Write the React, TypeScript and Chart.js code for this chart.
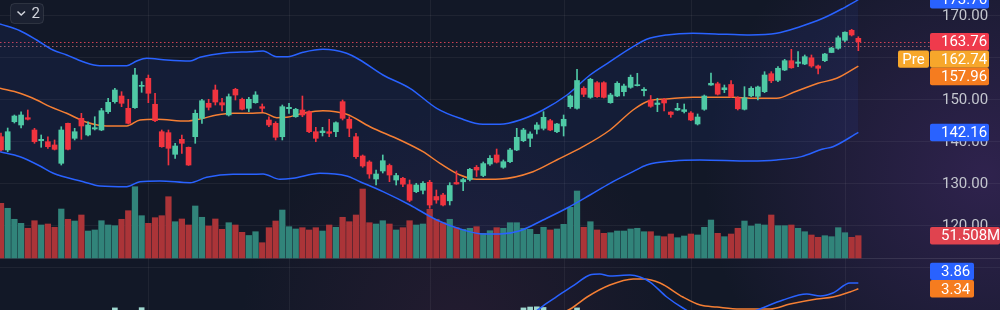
import React, { useEffect, useRef } from "react";
import { Chart, registerables } from "chart.js";

Chart.register(...registerables);

// ---------- DATA ----------
const opens = [
  141.14, 137.98, 144.71, 143.93, 145.67, 142.74, 140.19, 139.95, 139.17, 134.81,
  144.33, 140.76, 145.52, 141.55, 142.98, 142.74, 147.1, 149.48, 150.83, 147.9,
  148.05, 153.14, 155.05, 148.86, 142.33, 142.1, 136.95, 140.52, 138.62, 141.14,
  145.52, 149.1, 152.26, 149.24, 146.31, 152.43, 150.05, 147.9, 149.24, 148.29,
  145.12, 144.33, 141.14, 147.81, 145.9, 147.5, 147.1, 142.33, 142.1, 142.33,
  142.33, 149.48, 145.29, 141.14, 136.55, 135.12, 131.07, 132.98, 134.29, 130.83,
  131.24, 129.74, 128.05, 128.38, 130.29, 126.9, 127.26, 125.88, 130.24, 130.4,
  130.95, 133.86, 131.9, 134.64, 136.79, 133.86, 135.19, 137.98, 140.19, 140.76,
  142.9, 143.14, 144.95, 142.33, 143.69, 148.29, 147.9, 152.67, 150.52, 154.0,
  154.0, 149.24, 150.83, 151.86, 152.9, 153.29, 152.1, 149.88, 148.81, 149.95,
  147.02, 147.5, 147.14, 146.79, 144.17, 147.67, 153.45, 153.74, 152.33, 153.57,
  150.4, 147.67, 150.88, 150.76, 151.86, 156.14, 154.57, 157.02, 159.24, 158.62,
  158.45, 159.93, 157.98, 159.24, 161.19, 162.19, 164.1, 166.48, 164.57,
];
const highs = [
  142.02, 143.21, 146.31, 147.09, 147.5, 143.14, 141.55, 141.14, 140.36, 143.52,
  144.4, 143.14, 146.71, 144.71, 145.9, 147.9, 150.29, 152.67, 151.86, 150.05,
  157.43, 154.24, 155.83, 151.48, 142.74, 142.74, 139.57, 141.55, 138.69, 147.5,
  150.05, 150.05, 153.45, 150.29, 151.31, 152.67, 150.36, 150.52, 151.86, 148.93,
  145.9, 144.71, 148.69, 149.1, 147.9, 150.83, 147.33, 143.38, 143.38, 145.29,
  144.71, 149.88, 145.9, 141.95, 136.79, 135.43, 133.21, 136.79, 134.64, 132.43,
  131.48, 130.83, 130.05, 130.43, 130.76, 128.45, 127.67, 130.19, 132.98, 131.24,
  133.62, 134.29, 135.12, 136.67, 138.21, 135.6, 138.38, 143.14, 143.14, 142.33,
  144.48, 147.1, 145.29, 144.33, 146.31, 151.07, 157.19, 153.05, 155.05, 154.24,
  154.24, 151.48, 154.24, 153.69, 155.83, 156.24, 152.81, 150.95, 150.29, 150.29,
  147.1, 149.1, 148.93, 147.1, 146.55, 151.07, 156.31, 154.12, 153.45, 154.52,
  150.67, 153.05, 153.05, 153.21, 156.62, 156.62, 157.81, 159.57, 161.95, 161.38,
  160.6, 160.6, 158.21, 161.0, 162.43, 165.12, 166.14, 166.71, 164.95,
];
const lows = [
  137.74, 137.57, 144.4, 143.21, 145.12, 139.57, 138.62, 138.38, 137.98, 134.4,
  137.98, 140.36, 140.52, 141.31, 142.74, 142.57, 146.71, 149.1, 148.29, 144.17,
  147.9, 151.71, 149.24, 144.71, 138.62, 134.4, 136.0, 137.19, 134.29, 139.57,
  144.33, 147.5, 148.69, 147.26, 146.07, 149.88, 147.5, 147.1, 149.1, 147.1,
  143.52, 140.36, 140.36, 146.71, 145.76, 145.9, 142.1, 139.95, 141.31, 141.14,
  141.14, 145.12, 141.14, 136.0, 133.86, 131.24, 129.64, 132.5, 130.43, 129.64,
  129.24, 125.67, 127.81, 127.5, 124.1, 125.29, 124.64, 124.88, 129.83, 128.29,
  130.6, 131.67, 131.62, 134.29, 134.88, 133.62, 134.95, 137.81, 139.95, 138.76,
  141.79, 142.74, 142.57, 142.1, 141.31, 147.9, 147.67, 150.67, 150.29, 150.52,
  150.36, 149.1, 150.67, 150.83, 152.67, 153.21, 150.83, 148.14, 147.1, 147.31,
  145.76, 147.38, 146.79, 144.95, 143.93, 147.43, 153.33, 151.07, 151.62, 150.52,
  147.5, 147.5, 150.67, 149.88, 151.62, 154.0, 154.24, 156.86, 157.43, 157.81,
  158.29, 157.67, 156.07, 159.0, 161.14, 161.95, 163.76, 165.12, 161.62,
];
const closes = [
  137.98, 142.33, 146.07, 146.31, 145.29, 139.95, 140.52, 138.76, 138.14, 142.74,
  138.14, 142.33, 143.69, 143.93, 143.29, 147.33, 149.33, 152.26, 149.1, 144.33,
  155.83, 153.38, 151.48, 144.95, 138.76, 138.38, 138.93, 139.57, 134.4, 146.71,
  149.71, 148.14, 149.4, 148.69, 150.67, 151.07, 147.67, 150.05, 151.07, 147.9,
  143.93, 141.0, 148.29, 148.14, 147.67, 146.31, 142.33, 140.76, 142.5, 141.95,
  144.48, 145.52, 143.14, 136.38, 134.17, 132.26, 132.26, 135.43, 132.02, 131.9,
  129.83, 126.0, 129.64, 130.05, 124.88, 126.07, 124.88, 129.52, 129.88, 130.93,
  133.38, 133.21, 134.74, 136.0, 135.07, 135.19, 137.98, 141.0, 142.74, 141.79,
  143.93, 145.76, 142.74, 144.17, 145.29, 150.83, 154.52, 151.24, 154.81, 150.67,
  150.52, 151.07, 153.86, 153.21, 155.29, 153.52, 152.43, 148.38, 149.17, 149.17,
  146.43, 147.9, 147.57, 145.12, 145.83, 150.83, 153.86, 151.26, 152.79, 150.67,
  147.79, 150.4, 152.67, 152.98, 155.83, 154.45, 157.43, 159.24, 157.55, 158.93,
  160.19, 157.98, 157.43, 160.83, 162.26, 164.69, 166.02, 165.36, 163.76,
];
// volume in millions
const volumes = [
  126.3, 114.8, 89.4, 80.1, 68.6, 86.1, 76.2, 78.5, 70.9, 113.1,
  89.4, 85.4, 99.3, 62.3, 64.7, 86.1, 76.2, 74.6, 89.4, 109.2,
  164.6, 97.7, 80.1, 93.1, 97.7, 141.5, 83.8, 90.1, 76.2, 120.1,
  94.0, 73.9, 90.1, 66.3, 81.5, 76.2, 59.3, 52.0, 60.7, 35.3,
  70.0, 85.4, 110.8, 72.3, 67.0, 70.0, 64.7, 70.0, 62.3, 76.2,
  70.9, 94.0, 83.8, 99.3, 159.3, 81.5, 78.5, 86.1, 78.5, 64.7,
  70.0, 86.1, 76.2, 78.5, 112.4, 89.4, 81.5, 89.4, 70.0, 66.3,
  68.6, 72.3, 57.0, 63.0, 70.0, 68.6, 81.5, 81.5, 68.6, 66.3,
  54.7, 70.9, 64.7, 67.0, 77.8, 117.1, 154.7, 70.9, 83.8, 64.7,
  57.0, 58.4, 62.3, 62.3, 67.0, 68.6, 60.7, 60.7, 50.8, 49.2,
  55.4, 46.9, 50.8, 55.4, 53.1, 70.9, 87.7, 57.0, 49.2, 55.4,
  68.6, 85.4, 73.9, 78.5, 76.2, 99.3, 74.6, 74.6, 76.2, 68.6,
  60.7, 53.1, 47.8, 51.5, 49.2, 70.0, 58.4, 47.8, 51.508,
];
// Bollinger bands: [bar index, price]
const upperBand: [number, number][] = [
  [-0.15, 167.98], [2.84, 166.38], [5.33, 164.17], [7.76, 161.79], [9.81, 160.6], [12.24, 159.0],
  [14.78, 158.05], [18.77, 158.05], [20.26, 159.17], [21.75, 159.81], [24.74, 159.4], [28.22, 159.17],
  [29.71, 160.05], [33.7, 161.14], [37.18, 161.38], [39.12, 161.55], [41.16, 160.19], [42.85, 160.19],
  [45.09, 161.24], [48.07, 161.95], [51.61, 161.0], [53.6, 159.4], [57.03, 155.83], [61.06, 152.67],
  [65.05, 147.9], [68.53, 145.52], [71.96, 144.1], [74.5, 144.1], [77.49, 145.12], [80.92, 147.5],
  [84.5, 151.07], [87.94, 155.83], [90.92, 159.0], [94.36, 162.57], [96.4, 164.33], [99.39, 165.36],
  [103.31, 165.76], [108.35, 165.52], [111.82, 165.36], [115.81, 165.76], [119.29, 167.33],
  [122.72, 169.33], [125.71, 171.71], [128, 173.76],
];
const middleBand: [number, number][] = [
  [-0.15, 152.67], [2.84, 151.48], [5.33, 149.88], [7.32, 148.29], [9.81, 146.71], [12.79, 144.57],
  [15.78, 143.69], [18.77, 143.69], [20.75, 145.12], [23.25, 145.29], [27.72, 144.88], [29.71, 145.36],
  [32.2, 146.31], [34.68, 146.71], [37.18, 146.71], [39.12, 146.86], [41.16, 145.67], [42.65, 145.76],
  [45.09, 146.71], [48.07, 147.33], [51.61, 146.48], [55.09, 143.52], [59.57, 140.36], [63.0, 137.57],
  [65.54, 134.81], [68.53, 132.02], [71.02, 131.0], [74.5, 131.07], [79.43, 132.81], [82.97, 135.6],
  [86.89, 138.76], [90.92, 142.74], [94.36, 147.5], [96.4, 149.48], [99.39, 150.12], [103.31, 150.52],
  [109.29, 150.52], [111.82, 150.29], [115.81, 150.29], [118.54, 151.86], [121.98, 153.86],
  [124.77, 155.05], [128, 157.96],
];
const lowerBand: [number, number][] = [
  [-0.15, 137.57], [2.84, 136.38], [5.82, 134.17], [7.81, 132.43], [12.29, 130.43], [14.78, 129.4],
  [18.77, 129.24], [20.75, 130.43], [23.74, 130.6], [28.22, 130.19], [30.71, 131.48], [34.64, 132.19],
  [37.18, 132.19], [39.12, 132.26], [41.65, 131.0], [43.59, 131.24], [47.63, 132.43], [51.61, 131.79],
  [53.6, 130.43], [57.03, 128.05], [61.06, 124.88], [65.05, 121.31], [68.53, 119.17], [71.96, 117.98],
  [74.5, 117.98], [77.49, 118.76], [80.92, 121.31], [84.46, 124.1], [87.94, 127.26], [90.92, 130.05],
  [94.36, 132.81], [96.4, 134.4], [100.33, 135.36], [104.36, 135.6], [111.82, 135.36], [115.81, 135.6],
  [119.5, 136.4], [122.72, 138.21], [124.21, 138.76], [128, 142.16],
];
// MACD pane: [bar index, value]
const macdLine: [number, number][] = [
  [0, -0.5], [10, 0.4], [20, 1.25], [30, 0.3], [40, -0.4], [50, -1.2], [60, -3.4], [66, -4.0],
  [72, -2.6], [76, -0.6], [79, 0.9], [80.9, 1.77], [82.96, 2.62], [86, 3.86], [87.9, 4.59],
  [89.4, 4.68], [90.9, 4.5], [92.5, 4.55], [93.9, 4.59], [95.4, 4.41], [96.9, 3.95], [99.4, 2.59],
  [101.8, 1.59], [104, 0.9], [108, 0.7], [111, 1.0], [113.3, 1.5], [116.75, 2.32], [120.3, 2.86],
  [122.3, 2.68], [124.2, 2.95], [126.75, 3.86], [128, 3.86],
];
const signalLine: [number, number][] = [
  [0, 0.3], [15, 0.6], [25, 0.7], [40, 0.1], [55, -1.4], [65, -3.0], [75, -2.1], [80, -0.2],
  [83, 0.9], [85.25, 1.59], [87.5, 2.59], [90.9, 3.68], [94.4, 4.23], [95.9, 4.23], [98.4, 3.86],
  [101.8, 2.59], [104.4, 1.86], [106.9, 1.68], [110.3, 1.5], [114.8, 1.5], [117.8, 1.95],
  [121.8, 2.41], [124.2, 2.59], [126.75, 3.05], [128, 3.34],
];
const histogram: [number, number][] = [
  [17, 1.6], [21, 1.62], [78, 1.6], [79, 1.68], [80, 1.7], [81, 1.64], [86, 1.6],
];
const gridPrices = [170, 160, 150, 140, 130, 120, 110];
const priceLabels = [170, 150, 140, 130, 120];
const monthLines = [22, 43, 64, 84, 103, 126];
const preMarket = 162.74;
const badgeText = "2";

// ---------- STYLE ----------
const UP = "#4fc9a5";
const DOWN = "#f0343f";
const VOL_UP = "#31847a";
const VOL_DOWN = "#ab3438";
const BLUE = "#2962ff";
const ORANGE = "#f57f34";
const BAND_FILL = "rgba(45,95,230,0.085)";
const FONT = '15px Roboto, "Noto Sans", sans-serif';

function rr(ctx: CanvasRenderingContext2D, x: number, y: number, w: number, h: number, r: number) {
  ctx.beginPath();
  ctx.moveTo(x + r, y);
  ctx.lineTo(x + w - r, y);
  ctx.arcTo(x + w, y, x + w, y + r, r);
  ctx.lineTo(x + w, y + h - r);
  ctx.arcTo(x + w, y + h, x + w - r, y + h, r);
  ctx.lineTo(x + r, y + h);
  ctx.arcTo(x, y + h, x, y + h - r, r);
  ctx.lineTo(x, y + r);
  ctx.arcTo(x, y, x + r, y, r);
  ctx.closePath();
}

function box(ctx: CanvasRenderingContext2D, x0: number, x1: number, cy: number, h: number, bg: string, text: string, center = false) {
  ctx.fillStyle = bg;
  rr(ctx, x0, cy - h / 2, x1 - x0, h, 2);
  ctx.fill();
  ctx.fillStyle = "#ffffff";
  ctx.textBaseline = "middle";
  if (center) {
    ctx.textAlign = "center";
    ctx.fillText(text, (x0 + x1) / 2, cy + 1);
  } else {
    ctx.textAlign = "left";
    ctx.fillText(text, x0 + 11, cy + 1);
  }
}

const decor = {
  id: "decor",
  beforeDraw(chart: any) {
    const { ctx, width, height } = chart;
    const xs = chart.scales.x;
    const ys = chart.scales.y;
    ctx.save();
    ctx.fillStyle = "#121827";
    ctx.fillRect(0, 0, width, height);
    let g = ctx.createRadialGradient(985, 175, 0, 985, 175, 280);
    g.addColorStop(0, "rgba(90,50,135,0.40)");
    g.addColorStop(1, "rgba(90,50,135,0)");
    ctx.fillStyle = g;
    ctx.fillRect(0, 0, width, height);
    g = ctx.createRadialGradient(460, 330, 0, 460, 330, 220);
    g.addColorStop(0, "rgba(95,40,80,0.22)");
    g.addColorStop(1, "rgba(95,40,80,0)");
    ctx.fillStyle = g;
    ctx.fillRect(0, 0, width, height);
    ctx.strokeStyle = "rgba(255,255,255,0.055)";
    ctx.lineWidth = 1;
    for (const p of gridPrices) {
      const y = Math.round(ys.getPixelForValue(p)) + 0.5;
      ctx.beginPath();
      ctx.moveTo(0, y);
      ctx.lineTo(width, y);
      ctx.stroke();
    }
    for (const i of monthLines) {
      const x = Math.round(xs.getPixelForValue(i)) + 0.5;
      ctx.beginPath();
      ctx.moveTo(x, 0);
      ctx.lineTo(x, height);
      ctx.stroke();
    }
    // pane separator
    const sep = Math.round(chart.scales.vol.getPixelForValue(0)) + 0.5;
    ctx.strokeStyle = "rgba(255,255,255,0.10)";
    ctx.beginPath();
    ctx.moveTo(0, sep);
    ctx.lineTo(width, sep);
    ctx.stroke();
    // dotted price lines
    ctx.setLineDash([1.5, 2.5]);
    const lastClose = closes[closes.length - 1];
    ctx.strokeStyle = "rgba(240,70,90,0.85)";
    let y = Math.round(ys.getPixelForValue(lastClose)) + 0.5;
    ctx.beginPath();
    ctx.moveTo(0, y);
    ctx.lineTo(930, y);
    ctx.stroke();
    ctx.strokeStyle = "rgba(215,120,125,0.7)";
    y = Math.round(ys.getPixelForValue(preMarket)) + 0.5;
    ctx.beginPath();
    ctx.moveTo(0, y);
    ctx.lineTo(930, y);
    ctx.stroke();
    ctx.restore();
  },
  afterDraw(chart: any) {
    const { ctx } = chart;
    const ys = chart.scales.y;
    const vs = chart.scales.vol;
    const ms = chart.scales.macd;
    ctx.save();
    ctx.font = FONT;
    ctx.textBaseline = "middle";
    ctx.textAlign = "left";
    ctx.fillStyle = "#c3c6ce";
    for (const p of priceLabels) ctx.fillText(p.toFixed(2), 942, ys.getPixelForValue(p) + 1);

    const H = 17.4;
    const upperLast = upperBand[upperBand.length - 1][1];
    const midLast = middleBand[middleBand.length - 1][1];
    const lowLast = lowerBand[lowerBand.length - 1][1];
    const lastClose = closes[closes.length - 1];
    box(ctx, 930, 989, ys.getPixelForValue(upperLast), H, BLUE, upperLast.toFixed(2));
    const c1 = ys.getPixelForValue(lastClose);
    const c2 = Math.max(ys.getPixelForValue(preMarket), c1 + H);
    const c3 = Math.max(ys.getPixelForValue(midLast), c2 + H);
    box(ctx, 930, 989, c1, H, "#ef3a4c", lastClose.toFixed(2));
    box(ctx, 898, 929, c2, H, "#f7a72b", "Pre", true);
    box(ctx, 930, 989, c2, H, "#f7a72b", preMarket.toFixed(2));
    box(ctx, 930, 989, c3, H, "#f57c1f", midLast.toFixed(2));
    box(ctx, 930, 989, ys.getPixelForValue(lowLast), H, BLUE, lowLast.toFixed(2));
    const lastVol = volumes[volumes.length - 1];
    box(ctx, 930, 1000, vs.getPixelForValue(lastVol), H, "#e0434f", `${lastVol.toFixed(3)}M`);
    const macdLast = macdLine[macdLine.length - 1][1];
    const sigLast = signalLine[signalLine.length - 1][1];
    const m2 = ms.getPixelForValue(sigLast);
    const m1 = Math.min(ms.getPixelForValue(macdLast), m2 - H);
    box(ctx, 930, 974, m1, H, BLUE, macdLast.toFixed(2));
    box(ctx, 930, 974, m2, H, "#f57c1f", sigLast.toFixed(2));

    // top-left badge
    ctx.fillStyle = "rgba(28,34,50,0.95)";
    rr(ctx, 10.5, 3.5, 33, 20, 4);
    ctx.fill();
    ctx.strokeStyle = "rgba(255,255,255,0.10)";
    ctx.lineWidth = 1;
    ctx.stroke();
    ctx.strokeStyle = "#d1d4dc";
    ctx.lineWidth = 1.5;
    ctx.beginPath();
    ctx.moveTo(17.5, 11.5);
    ctx.lineTo(21.2, 15);
    ctx.lineTo(25, 11.5);
    ctx.stroke();
    ctx.fillStyle = "#d1d4dc";
    ctx.textAlign = "left";
    ctx.fillText(badgeText, 31.5, 14);
    ctx.restore();
  },
};

export default function App() {
  const ref = useRef<HTMLCanvasElement>(null);
  useEffect(() => {
    const canvas = ref.current;
    if (!canvas) return;
    const idx = opens.map((_, i) => i);
    const up = idx.map((i) => closes[i] >= opens[i]);
    const cColors = up.map((u) => (u ? UP : DOWN));
    const vColors = up.map((u) => (u ? VOL_UP : VOL_DOWN));
    const pts = (a: [number, number][]) => a.map(([x, y]) => ({ x, y }));
    const lineBase = {
      type: "line" as const,
      pointRadius: 0,
      borderWidth: 1.5,
      cubicInterpolationMode: "monotone" as const,
      fill: false,
    };
    const chart = new Chart(canvas, {
      type: "bar",
      data: {
        datasets: [
          {
            type: "bar",
            label: "body",
            data: idx.map((i) => ({ x: i, y: [opens[i], closes[i]] })) as any,
            backgroundColor: cColors,
            barThickness: 5,
            minBarLength: 1,
            grouped: false,
            yAxisID: "y",
            order: 1,
          },
          {
            type: "bar",
            label: "wick",
            data: idx.map((i) => ({ x: i, y: [lows[i], highs[i]] })) as any,
            backgroundColor: cColors,
            barThickness: 1,
            grouped: false,
            yAxisID: "y",
            order: 2,
          },
          {
            ...lineBase,
            label: "upper",
            data: pts(upperBand),
            borderColor: BLUE,
            yAxisID: "y",
            order: 4,
            fill: { target: 4, above: BAND_FILL, below: BAND_FILL },
          },
          { ...lineBase, label: "basis", data: pts(middleBand), borderColor: ORANGE, yAxisID: "y", order: 4 },
          { ...lineBase, label: "lower", data: pts(lowerBand), borderColor: BLUE, yAxisID: "y", order: 4 },
          { ...lineBase, label: "macd", data: pts(macdLine), borderColor: BLUE, yAxisID: "macd", order: 3 },
          { ...lineBase, label: "signal", data: pts(signalLine), borderColor: ORANGE, yAxisID: "macd", order: 3 },
          {
            type: "bar",
            label: "hist",
            data: pts(histogram) as any,
            backgroundColor: "#9fd8cf",
            barThickness: 5,
            grouped: false,
            yAxisID: "macd",
            order: 6,
          },
          {
            type: "bar",
            label: "volume",
            data: idx.map((i) => ({ x: i, y: volumes[i] })) as any,
            backgroundColor: vColors,
            barThickness: 5.6,
            grouped: false,
            yAxisID: "vol",
            order: 7,
          },
        ] as any,
      },
      options: {
        animation: false,
        responsive: false,
        devicePixelRatio: 1,
        events: [],
        layout: { padding: 0 },
        plugins: {
          legend: { display: false },
          tooltip: { enabled: false },
          filler: { drawTime: "beforeDatasetsDraw" },
        } as any,
        scales: {
          x: { type: "linear", min: -0.149, max: 149.15, offset: false, display: false },
          y: { type: "linear", min: 99.88, max: 173.69, display: false },
          vol: { type: "linear", min: -120.1, max: 595.8, display: false },
          macd: { type: "linear", min: 1.409, max: 29.59, display: false },
        } as any,
      },
      plugins: [decor],
    });
    return () => chart.destroy();
  }, []);
  return (
    <div style={{ position: "fixed", left: 0, top: 0, width: 1000, height: 310, overflow: "hidden", background: "#121827" }}>
      <canvas ref={ref} width={1000} height={310} style={{ display: "block", width: 1000, height: 310 }} />
    </div>
  );
}
